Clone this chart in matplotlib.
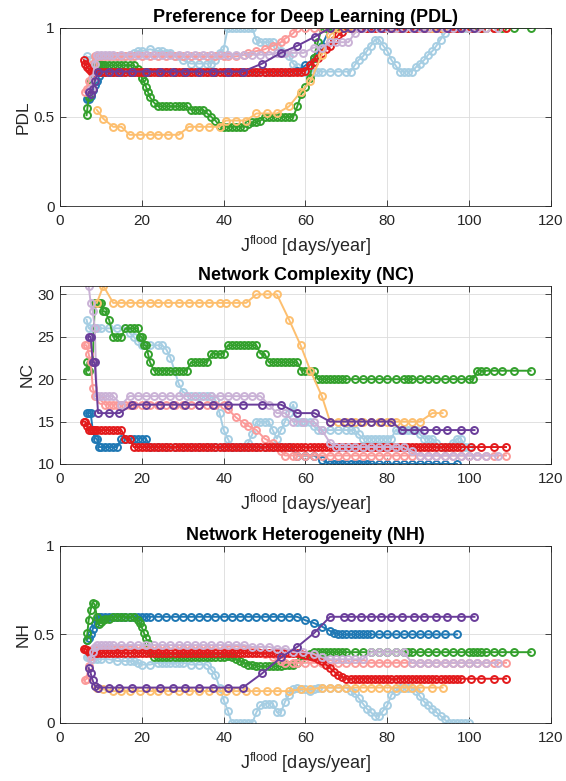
import matplotlib
matplotlib.use("Agg")
import matplotlib.pyplot as plt

plt.rcParams['font.family'] = ['Liberation Sans', 'DejaVu Sans']
plt.rcParams['mathtext.default'] = 'regular'

# light blue
lb_x = [6.5, 7, 8, 9, 10, 12, 14, 16, 17, 18, 19, 20, 22, 24, 25, 26, 27, 28, 29, 30,
        32, 34, 36, 37, 38, 39, 40, 41, 42, 43, 44, 45, 46, 47, 48, 49, 50, 51, 52, 53,
        54, 55, 56, 57, 58, 59, 60, 61, 62, 63, 64, 66, 68, 70, 71, 72, 73, 74, 75, 76,
        77, 78, 79, 80, 81, 82, 83, 84, 85, 86, 87, 88, 89, 90, 91, 92, 93, 94, 95, 96,
        97, 98, 99, 100]
lb_pdl = [0.84, 0.82, 0.80, 0.83, 0.84, 0.84, 0.84, 0.84, 0.85, 0.86,
          0.87, 0.87, 0.88, 0.87, 0.87, 0.86, 0.86, 0.84, 0.84, 0.82,
          0.80, 0.80, 0.80, 0.80, 0.82, 0.86, 0.88, 1.0, 1.0, 1.0,
          1.0, 1.0, 1.0, 1.0, 0.93, 0.92, 0.92, 0.92, 0.92, 0.90,
          0.87, 0.86, 0.84, 0.80, 0.78, 0.76, 0.755, 0.755, 0.755, 0.755,
          0.755, 0.755, 0.755, 0.755, 0.755, 0.79, 0.82, 0.84, 0.87, 0.90,
          0.935, 0.935, 0.90, 0.87, 0.82, 0.79, 0.755, 0.755, 0.755, 0.755,
          0.78, 0.80, 0.82, 0.85, 0.87, 0.90, 0.935, 0.97, 1.0, 1.0,
          1.0, 1.0, 1.0, 1.0]
lb_nc = [27, 26, 26, 26, 26, 26, 26, 26, 25.5, 25,
         24.5, 24, 24, 24, 24, 23.5, 22.5, 21, 19.5, 18.5,
         18, 18, 18, 18, 17.5, 16, 14, 13, 12, 12,
         12, 12, 12.5, 13.5, 15, 15, 15, 15, 14, 13,
         14, 15, 16, 17, 15, 15, 15, 15, 14.5, 14,
         14, 14, 14, 14, 14, 14, 13.5, 13, 13, 13,
         13, 13, 13, 13, 13, 14, 14, 14, 14, 14,
         14, 13.5, 13, 13, 13, 12.5, 12, 12, 12, 12.5,
         13, 13, 12, 12]
lb_nh = [0.375, 0.37, 0.36, 0.36, 0.36, 0.36, 0.35, 0.35, 0.35, 0.35,
         0.34, 0.33, 0.33, 0.34, 0.34, 0.34, 0.34, 0.34, 0.34, 0.34,
         0.33, 0.33, 0.33, 0.30, 0.27, 0.20, 0.13, 0.07, 0, 0,
         0, 0, 0, 0, 0.06, 0.10, 0.11, 0.11, 0.11, 0.06,
         0.06, 0.12, 0.16, 0.19, 0.20, 0.19, 0.19, 0.18, 0.19, 0.20,
         0.20, 0.20, 0.20, 0.20, 0.18, 0.17, 0.14, 0.11, 0.08, 0.06,
         0.04, 0.04, 0.07, 0.10, 0.16, 0.18, 0.20, 0.20, 0.20, 0.20,
         0.18, 0.15, 0.12, 0.10, 0.08, 0.06, 0.04, 0.02, 0, 0,
         0, 0, 0, 0]

# blue
b_x = [6.5, 7, 7.5, 8, 8.5, 9, 9.5, 10, 11, 12, 13, 14, 15, 16, 17, 18, 19, 20, 21, 22,
       24, 26, 28, 30, 32, 34, 36, 38, 40, 42, 44, 46, 48, 50, 52, 54, 56, 58, 60, 62,
       64, 66, 67, 68, 69, 70, 71, 72, 73, 74, 75, 76, 78, 80, 82, 84, 86, 88, 90, 92,
       94, 97]
b_pdl = [0.6, 0.6, 0.62, 0.65, 0.68, 0.7, 0.73] + [0.75] * 30 + [0.76, 0.79, 0.83, 0.9] + [1.0] * 21
b_nc = [16, 16, 16, 14, 13, 13, 12, 12, 12, 12, 12, 12, 13, 13, 13, 13, 13, 13, 13, 12] \
    + [12] * 17 + [11, 11, 11, 10.5] + [10] * 21
b_nh = [0.47, 0.48, 0.5, 0.53, 0.56, 0.58] + [0.6] * 32 + [0.58, 0.565, 0.545, 0.52, 0.51] + [0.5] * 19

# green
g_x = [6.5, 6.7, 7, 7.5, 8, 8.5, 9, 9.5, 10, 10.5, 11, 12, 13, 14, 15, 16, 17, 18, 19, 19.5,
       20, 20.5, 21, 21.5, 22, 23, 24, 25, 26, 27, 28, 29, 30, 31, 32, 33, 34, 35, 36, 37,
       38, 39, 40, 41, 42, 43, 44, 45, 46, 47, 48, 49, 50, 51, 52, 53, 54, 55, 56, 57,
       58, 59, 60, 61, 62, 63, 64, 65, 66, 67, 68, 69, 70, 72, 74, 76, 78, 80, 82, 84,
       85, 86, 88, 90, 92, 94, 96, 98, 100, 101, 102, 103, 104, 106, 108, 111, 115]
g_pdl = [0.51, 0.55, 0.61, 0.70, 0.78, 0.80, 0.79, 0.79, 0.79, 0.79,
         0.79, 0.79, 0.79, 0.79, 0.79, 0.79, 0.79, 0.79, 0.77, 0.75,
         0.72, 0.70, 0.67, 0.64, 0.61, 0.58, 0.56, 0.56, 0.56, 0.56,
         0.56, 0.56, 0.56, 0.56, 0.54, 0.54, 0.54, 0.54, 0.52, 0.50,
         0.48, 0.45, 0.445, 0.445, 0.445, 0.445, 0.445, 0.445, 0.46, 0.47,
         0.47, 0.48, 0.50, 0.50, 0.50, 0.50, 0.50, 0.50, 0.50, 0.50,
         0.56, 0.63, 0.67, 0.72, 0.83, 0.92] + [1.0] * 31
g_nc = [21, 22, 21, 22, 22, 29, 29, 29, 29, 28,
        28, 27, 25, 25, 25, 26, 26, 26, 26, 25,
        25, 24, 24, 23, 22, 21, 21, 21, 21, 21,
        21, 21, 21, 21, 22, 22, 22, 22, 22, 23,
        23, 23, 23, 24, 24, 24, 24, 24, 24, 24,
        24, 23, 23, 22, 22, 22, 22, 22, 22, 22,
        22, 21, 21, 21, 21] + [20] * 25 + [21] * 7
g_nh = [0.47, 0.51, 0.58, 0.64, 0.68, 0.67, 0.60, 0.56, 0.57, 0.58,
        0.59, 0.59, 0.60, 0.60, 0.60, 0.60, 0.60, 0.60, 0.58, 0.565,
        0.54, 0.51, 0.48, 0.45, 0.40] + [0.37] * 18 + [0.38, 0.37, 0.36, 0.35, 0.34, 0.33, 0.33,
                                                       0.32, 0.32, 0.32, 0.32, 0.32, 0.32, 0.32,
                                                       0.33, 0.33, 0.33, 0.34, 0.36, 0.38, 0.39] \
    + [0.40] * 33

# pink
p_x = [6, 6.5, 7, 7.5, 8, 8.5, 9, 10, 11, 12, 13, 14, 15, 16, 17, 18, 20, 22, 24, 26,
       28, 30, 32, 34, 36, 38, 40, 41, 43, 45, 46, 48, 50, 52, 54, 55, 57, 58, 60, 62,
       64, 66, 68, 70, 72, 74, 76, 78, 80, 82, 84, 86, 88, 90, 92, 94, 96, 98, 100, 102,
       104, 106, 109]
p_pdl = [0.64, 0.66, 0.70, 0.76, 0.80] + [0.84] * 24 + [0.85, 0.86, 0.87, 0.88, 0.90, 0.92, 0.94, 0.97] + [1.0] * 26
p_nc = [24, 24, 23, 22, 19, 18, 18, 17.5] + [17] * 19 + [16.5, 15.5, 14.8, 14.5, 14, 13, 12.5, 11.5] + [11] * 28
p_nh = [0.24, 0.25, 0.32, 0.38, 0.42] + [0.42] * 25 + [0.42, 0.41, 0.39, 0.37, 0.35] + [0.34] * 28

# red
r_x = [5.8, 6.2, 6.6, 7, 7.5, 8, 8.5, 9,
       10, 11, 12, 13, 14, 15, 16, 17, 18, 19, 20, 21, 22, 23, 24, 25, 26, 27, 28, 29,
       30, 31, 32, 33, 34, 35, 36, 37, 38, 39, 40, 41, 42, 43, 44, 45, 46, 47, 48, 49,
       50, 51, 52, 53, 54, 55, 56, 57, 58, 59, 60, 61, 62, 63, 64, 65, 66, 67, 68, 69,
       70, 71, 72, 73, 74, 75, 76, 77, 78, 79, 80, 81, 82, 83, 84, 85, 86, 87, 88, 89,
       90, 91, 92, 93, 94, 95, 96, 97, 98, 100.5, 103, 106, 109]
r_pdl = [0.82, 0.80, 0.78, 0.77, 0.76, 0.755, 0.755, 0.755] + [0.755] * 50 \
    + [0.76, 0.79, 0.81, 0.83, 0.86, 0.88, 0.90, 0.93, 0.96, 0.98] + [1.0] * 33
r_nc = [15, 15, 14.5, 14, 14, 14, 14, 14] + [14] * 6 + [13, 13] + [12] * 85
r_nh = [0.42, 0.42, 0.41, 0.40, 0.40, 0.395, 0.395, 0.395] + [0.395] * 49 + [0.39] \
    + [0.385, 0.38, 0.37, 0.36, 0.35, 0.33, 0.31, 0.29, 0.27, 0.26] + [0.25] * 33

# light orange
o_x = [9, 10.6, 13, 15, 17, 19.5, 22, 24, 26.5, 29, 31.5, 34, 36.5, 39, 40.5, 43, 45.5, 48, 50.5, 53,
       56, 58.8, 61.2, 64, 66, 68, 70, 72, 74, 76, 78, 80, 82, 84, 86, 88, 91, 93.5]
o_pdl = [0.54, 0.49, 0.445, 0.445, 0.40, 0.40, 0.40, 0.40, 0.40, 0.40,
         0.445, 0.445, 0.445, 0.445, 0.48, 0.48, 0.48, 0.52, 0.52, 0.52,
         0.56, 0.64, 0.70, 0.85, 0.96] + [1.0] * 13
o_nc = [29, 31] + [29] * 15 + [30, 30, 30, 27, 24, 21, 18, 15] + [15] * 11 + [16, 16]
o_nh = [0.20, 0.19] + [0.18] * 19 + [0.19, 0.19, 0.20, 0.20] + [0.20] * 13

# light purple
lp_x = [7, 7.5, 8, 8.5, 9, 10, 11, 12, 13, 15, 17, 19, 21, 23, 25, 27, 29, 31, 33, 35,
        37, 39, 41, 43, 45, 47, 49, 51, 53, 55, 57, 59.5, 62, 64, 66, 67.5, 69, 70.5, 72, 74,
        76, 78, 80, 82, 84, 86, 88, 90, 92, 94, 96, 98, 100, 102, 104, 107]
lp_pdl = [0.64, 0.66, 0.72, 0.80] + [0.85] * 24 + [0.86] * 4 + [0.89, 0.89] + [0.92] * 4 + [0.97] + [1.0] * 17
lp_nc = [31, 29, 28, 26, 18, 18, 18, 18, 18, 17] + [18] * 17 \
    + [17, 16, 16, 15, 15, 15, 14, 12.5] + [12] * 10 + [11.5] + [11] * 10
lp_nh = [0.31, 0.36, 0.40, 0.43] + [0.44] * 21 + [0.43, 0.43, 0.43, 0.42, 0.42] \
    + [0.40, 0.40, 0.39, 0.37, 0.36] + [0.36] * 5 + [0.40] * 5 + [0.34] * 11

# purple
pu_x = [7, 7.5, 8, 8.5, 9.3, 12, 14.5, 17.7, 21, 24.5, 27.5, 30.5, 34, 37.5, 41, 44.7, 49.4, 54, 58, 62.2,
        66, 69.3, 71, 73.5, 76, 78.5, 81, 83.5, 86.5, 89, 92, 94.7, 98, 101.3]
pu_pdl = [0.64, 0.63, 0.66, 0.70] + [0.755] * 12 + [0.80, 0.86, 0.90, 0.95] + [1.0] * 14
pu_nc = [25, 25, 22, 22, 16, 16, 16] + [17] * 11 + [16, 16] + [15] * 7 + [14] * 7
pu_nh = [0.31, 0.28, 0.24, 0.21] + [0.20] * 12 + [0.28, 0.37, 0.43, 0.51] + [0.60] * 14

series = [
    ('#a6cee3', lb_x, lb_pdl, lb_nc, lb_nh),
    ('#1f78b4', b_x, b_pdl, b_nc, b_nh),
    ('#33a02c', g_x, g_pdl, g_nc, g_nh),
    ('#fb9a99', p_x, p_pdl, p_nc, p_nh),
    ('#e31a1c', r_x, r_pdl, r_nc, r_nh),
    ('#fdbf6f', o_x, o_pdl, o_nc, o_nh),
    ('#cab2d6', lp_x, lp_pdl, lp_nc, lp_nh),
    ('#6a3d9a', pu_x, pu_pdl, pu_nc, pu_nh),
]

titles = ['Preference for Deep Learning (PDL)', 'Network Complexity (NC)', 'Network Heterogeneity (NH)']
ylabels = ['PDL', 'NC', 'NH']
ylims = [(0, 1), (10, 31), (0, 1)]
yticks = [[0, 0.5, 1], [10, 15, 20, 25, 30], [0, 0.5, 1]]
ytlabels = [['0', '0.5', '1'], ['10', '15', '20', '25', '30'], ['0', '0.5', '1']]
boxes = [[0.106, 0.7362, 0.8675, 0.228],
         [0.106, 0.4059, 0.8675, 0.228],
         [0.106, 0.0743, 0.8675, 0.2266]]

fig = plt.figure(figsize=(5.66, 7.81), dpi=100)
dark = '#262626'

for k in range(3):
    ax = fig.add_axes(boxes[k])
    for col, x, pdl, nc, nh in series:
        y = [pdl, nc, nh][k]
        ax.plot(x, y, '-o', color=col, lw=1.4, ms=5.0, mfc='none', mew=1.4)
    ax.set_xlim(0, 120)
    ax.set_ylim(*ylims[k])
    ax.set_xticks([0, 20, 40, 60, 80, 100, 120])
    ax.set_yticks(yticks[k])
    ax.set_yticklabels(ytlabels[k])
    ax.grid(True, color='#dcdcdc', lw=0.6)
    ax.set_axisbelow(True)
    ax.tick_params(direction='in', length=4, width=0.6, colors=dark, labelsize=11,
                   top=True, right=True)
    ax.tick_params(axis='x', pad=6)
    ax.tick_params(axis='y', pad=4)
    for s in ax.spines.values():
        s.set_color(dark)
        s.set_linewidth(0.6)
    ax.set_title(titles[k], fontsize=13, fontweight='bold', color='black', pad=4)
    ax.set_ylabel(ylabels[k], fontsize=12.5, color=dark, labelpad=2)
    ax.set_xlabel('J$^{flood}$ [days/year]', fontsize=13, color=dark, labelpad=4)

fig.savefig('out.png', dpi=100)
